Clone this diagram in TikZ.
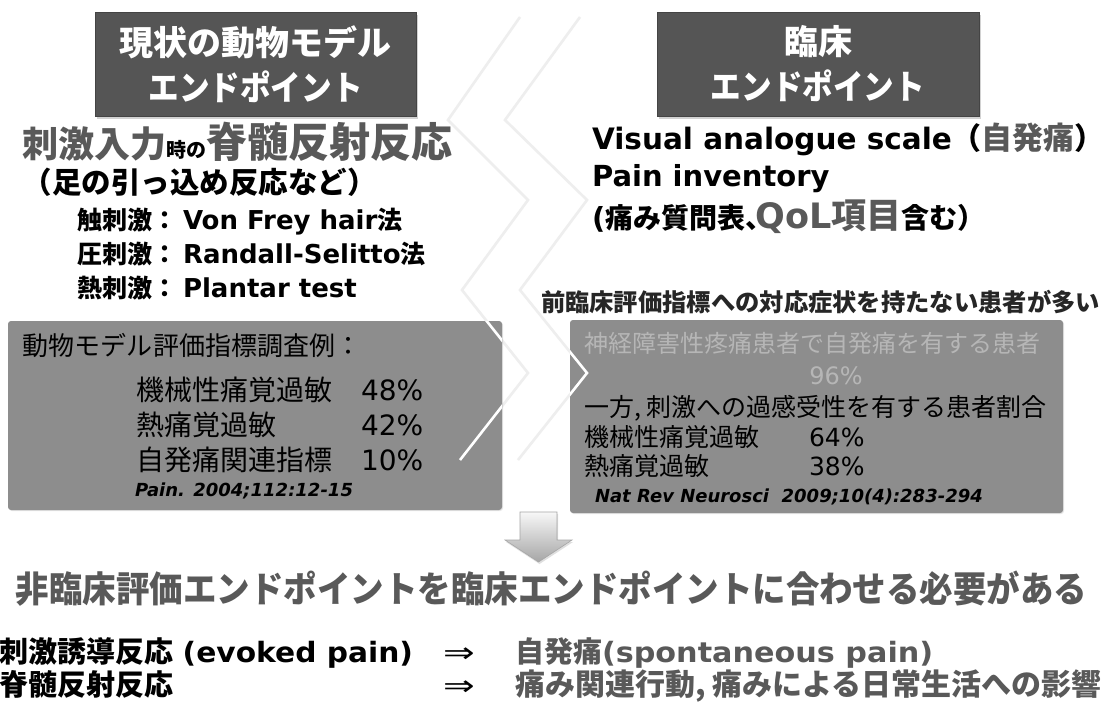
\documentclass[tikz,border=0pt]{standalone}
\usepackage{fontspec}
\setmainfont{DejaVu Sans}
\newfontfamily\jp{Noto Sans CJK JP}
\usetikzlibrary{shadows}
\definecolor{hdr}{RGB}{85,85,85}
\definecolor{boxg}{RGB}{141,141,141}
\definecolor{txtg}{RGB}{89,89,89}
\definecolor{chev}{RGB}{238,238,238}
\definecolor{faint}{RGB}{182,182,182}
\newcommand\fs[1]{\fontsize{#1}{#1}\selectfont}
\newcommand\J[1]{{\jp #1}}
\begin{document}
\begin{tikzpicture}[x=1pt,y=-1pt,
  txt/.style={inner sep=0pt, outer sep=0pt, anchor=base west},
  hdrbox/.style={fill=hdr, draw=hdr!80!black, line width=0.8pt, inner sep=0pt,
    align=center, text=white, font=\jp\bfseries\fontsize{34}{45}\selectfont,
    drop shadow={opacity=0.35, shadow xshift=2pt, shadow yshift=-3pt}},
  panel/.style={fill=boxg, rounded corners=3pt, inner sep=0pt,
    drop shadow={opacity=0.2, shadow xshift=1pt, shadow yshift=-1pt}},
  chevst/.style={line width=2.6pt, line join=miter},
  bigarrow/.style={draw=black!35, line width=0.6pt, top color=black!3, bottom color=black!35,
    drop shadow={opacity=0.25, shadow xshift=1pt, shadow yshift=-2pt}}
]
\fill[white] (0,0) rectangle (1111,704);
\useasboundingbox (0,0) rectangle (1111,704);

% background chevrons
\draw[chevst, chev] (520,17) -- (448,120) -- (528,200) -- (462,290) -- (528,373) -- (460,460);
\draw[chevst, chev] (580,17) -- (505,120) -- (587,200) -- (520,290) -- (587,373) -- (518,460);

% header boxes
\node[hdrbox, minimum width=321pt, minimum height=104pt] (h1) at (255.5,64) {現状の動物モデル\\\scalebox{0.9}[1]{エンドポイント}};
\node[hdrbox, minimum width=322pt, minimum height=104pt] (h2) at (818,64) {臨床\\\scalebox{0.9}[1]{エンドポイント}};

% panels
\node[panel, minimum width=494pt, minimum height=189pt] (lp) at (255,415.5) {};
\node[panel, minimum width=493pt, minimum height=193pt] (rp) at (816.5,416.5) {};

% chevrons over panels (white)
\begin{scope}
  \clip (lp.south west) rectangle (lp.north east) (rp.south west) rectangle (rp.north east);
  \draw[chevst, white] (520,17) -- (448,120) -- (528,200) -- (462,290) -- (528,373) -- (460,460);
  \draw[chevst, white] (580,17) -- (505,120) -- (587,200) -- (520,290) -- (587,373) -- (518,460);
\end{scope}

% left column text
\node[txt, text=txtg] (a1) at (22,157) {\jp\bfseries\fs{36}刺激入力{\color{black}\fs{20}時の}\fs{41}脊髄反射反応};
\node[txt] (a2) at (23,193) {\jp\bfseries\fs{29.5}（足の引っ込め反応など）};
\node[txt] (a3) at (77,229) {\bfseries\J{\fs{25}触刺激：}\kern6pt\fs{26}Von Frey hair\J{\fs{25}法}};
\node[txt] (a4) at (77,263) {\bfseries\J{\fs{25}圧刺激：}\kern6pt\fs{26}Randall-Selitto\J{\fs{25}法}};
\node[txt] (a5) at (77,297) {\bfseries\J{\fs{25}熱刺激：}\kern6pt\fs{26}Plantar test};

% right column text
\node[txt] (b1) at (592,149) {\bfseries\fs{29.5}Visual analogue scale\J{\fs{30}（}{\color{txtg}\J{\fs{31}自発痛}}\J{\fs{30}）}};
\node[txt] (b2) at (592,186) {\bfseries\fs{29}Pain inventory};
\node[txt] (b3) at (592,228) {\bfseries\fs{29}(\J{\fs{28}痛み質問表}\makebox[10pt][l]{\J{\fs{28}、}}{\color{txtg}\fs{35}QoL\J{項目}}\J{\fs{28}含む）}};
\node[txt, text=black!85] (b4) at (541,311) {\jp\bfseries\fs{24.3}前臨床評価指標への対応症状を持たない患者が多い};

% left panel text
\node[txt] (c1) at (23,355) {\jp\fs{26}動物モデル評価指標調査例：};
\node[txt] (c2) at (136,400) {\jp\fs{28}機械性痛覚過敏};
\node[txt] (c2p) at (361,400) {\fs{28}48\%};
\node[txt] (c3) at (136,435) {\jp\fs{28}熱痛覚過敏};
\node[txt] (c3p) at (361,435) {\fs{28}42\%};
\node[txt] (c4) at (136,470) {\jp\fs{28}自発痛関連指標};
\node[txt] (c4p) at (361,470) {\fs{28}10\%};
\node[txt] (c5) at (135,496) {\bfseries\itshape\fs{18}Pain. 2004;112:12-15};

% right panel text
\node[txt, text=faint] (d1) at (584,352) {\jp\fs{24}神経障害性疼痛患者で自発痛を有する患者};
\node[txt, text=faint, anchor=base] (d2) at (836,384) {\fs{24}96\%};
\node[txt] (d3) at (584,416) {\jp\fs{25}一方, 刺激への過感受性を有する患者割合};
\node[txt] (d4) at (584,446) {\jp\fs{25}機械性痛覚過敏};
\node[txt] (d4p) at (809,446) {\fs{25}64\%};
\node[txt] (d5) at (584,475) {\jp\fs{25}熱痛覚過敏};
\node[txt] (d5p) at (809,475) {\fs{25}38\%};
\node[txt] (d6) at (595,502) {\bfseries\itshape\fs{18}Nat Rev Neurosci\ \ 2009;10(4):283-294};

% down arrow
\path[bigarrow] (520,512) -- (557,512) -- (557,540) -- (572,540) -- (538.5,562) -- (505,540) -- (520,540) -- cycle;

% conclusion
\node[txt, text=txtg] (t) at (16,602) {\scalebox{0.93}[1]{\jp\bfseries\fs{36}非臨床評価エンドポイントを臨床エンドポイントに合わせる必要がある}};

\node[txt] (e1) at (-1,662) {\bfseries\J{\fs{29}刺激誘導反応}\fs{28} \scalebox{1.06}[1]{(evoked pain)}};
\node[txt] (e2) at (443,662) {\fs{28}\scalebox{1.35}[1]{⇒}};
\node[txt, text=txtg] (e3) at (515,662) {\bfseries\J{\fs{29}自発痛}\fs{28}\scalebox{1.08}[1]{(spontaneous pain)}};
\node[txt] (e4) at (-1,695) {\jp\bfseries\fs{29}脊髄反射反応};
\node[txt] (e5) at (443,695) {\fs{28}\scalebox{1.35}[1]{⇒}};
\node[txt, text=txtg] (e6) at (515,695) {\jp\bfseries\fs{30}痛み関連行動, 痛みによる日常生活への影響};
\end{tikzpicture}
\end{document}
